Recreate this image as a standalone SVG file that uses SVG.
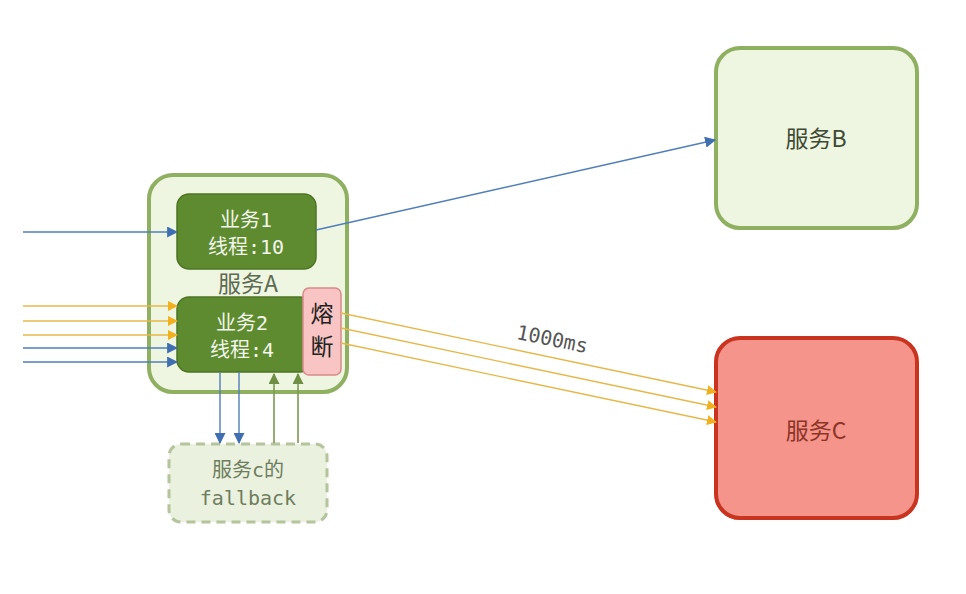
<svg xmlns="http://www.w3.org/2000/svg" width="966" height="594" viewBox="0 0 966 594">
<style>
.sans{font-family:"Noto Sans CJK SC","Noto Sans",sans-serif}
.mono{font-family:"DejaVu Sans Mono","Noto Sans CJK SC",monospace}
.blue{stroke:#4f7fb8;stroke-width:1.4;fill:none}
.yel{stroke:#e6b84a;stroke-width:1.4;fill:none}
.olive{stroke:#7a9a50;stroke-width:1.6;fill:none}
</style>
<defs>
<marker id="ab" viewBox="0 0 10 10" refX="9" refY="5" markerWidth="11" markerHeight="11" markerUnits="userSpaceOnUse" orient="auto"><path d="M0,0 L10,5 L0,10 z" fill="#3f6fb0"/></marker>
<marker id="ay" viewBox="0 0 10 10" refX="9" refY="5" markerWidth="10" markerHeight="10" markerUnits="userSpaceOnUse" orient="auto"><path d="M0,0 L10,5 L0,10 z" fill="#f0b020"/></marker>
<marker id="ao" viewBox="0 0 10 10" refX="9" refY="5" markerWidth="11" markerHeight="11" markerUnits="userSpaceOnUse" orient="auto"><path d="M0,0 L10,5 L0,10 z" fill="#6f8f45"/></marker>
</defs>
<rect width="966" height="594" fill="#ffffff"/>
<g id="serviceA">
<rect x="149" y="175" width="198" height="217" rx="24" fill="#eef5e0" stroke="#8fb060" stroke-width="4"/>
<text x="248" y="292" text-anchor="middle" class="sans" font-size="23" fill="#5d6a52">服务A</text>
</g>
<g id="biz1">
<rect x="177" y="194" width="139" height="75" rx="12" fill="#5f8b30" stroke="#4d7424" stroke-width="1.5"/>
<text x="246" y="227" text-anchor="middle" class="mono" font-size="20" fill="#f2f6ec">业务1</text>
<text x="246" y="254" text-anchor="middle" class="mono" font-size="20" fill="#f2f6ec">线程:10</text>
</g>
<g id="biz2">
<rect x="177" y="297" width="135" height="75" rx="12" fill="#5f8b30" stroke="#4d7424" stroke-width="1.5"/>
<text x="242" y="330" text-anchor="middle" class="mono" font-size="20" fill="#f2f6ec">业务2</text>
<text x="242" y="357" text-anchor="middle" class="mono" font-size="20" fill="#f2f6ec">线程:4</text>
</g>
<g id="fuse">
<rect x="303" y="288" width="38" height="87" rx="6" fill="#f8c4c4" stroke="#d88a8a" stroke-width="1.5"/>
<text x="322" y="322" text-anchor="middle" class="sans" font-size="23" fill="#222">熔</text>
<text x="322" y="355" text-anchor="middle" class="sans" font-size="23" fill="#222">断</text>
</g>
<g id="fallback">
<rect x="169" y="444" width="158" height="78" rx="12" fill="#eaf1df" stroke="#b4c49c" stroke-width="3" stroke-dasharray="9,6"/>
<text x="248" y="477" text-anchor="middle" class="mono" font-size="20" fill="#6e7d5e">服务c的</text>
<text x="248" y="505" text-anchor="middle" class="mono" font-size="20" fill="#6e7d5e">fallback</text>
</g>
<g id="serviceB">
<rect x="716" y="48" width="201" height="180" rx="24" fill="#eef5e0" stroke="#8fb060" stroke-width="4"/>
<text x="816" y="147" text-anchor="middle" class="sans" font-size="23" fill="#3e4a34">服务B</text>
</g>
<g id="serviceC">
<rect x="716" y="338" width="201" height="180" rx="24" fill="#f5948a" stroke="#c83420" stroke-width="4"/>
<text x="816" y="439" text-anchor="middle" class="sans" font-size="23" fill="#8c3426">服务C</text>
</g>
<g id="connectors">
<line x1="23" y1="232" x2="177" y2="232" class="blue" marker-end="url(#ab)"/>
<line x1="23" y1="306" x2="177" y2="306" class="yel" marker-end="url(#ay)"/>
<line x1="23" y1="321" x2="177" y2="321" class="yel" marker-end="url(#ay)"/>
<line x1="23" y1="335" x2="177" y2="335" class="yel" marker-end="url(#ay)"/>
<line x1="23" y1="348" x2="177" y2="348" class="blue" marker-end="url(#ab)"/>
<line x1="23" y1="362" x2="177" y2="362" class="blue" marker-end="url(#ab)"/>
<line x1="316" y1="230" x2="715" y2="140" class="blue" marker-end="url(#ab)"/>
<line x1="341" y1="313" x2="716" y2="392" class="yel" marker-end="url(#ay)"/>
<line x1="341" y1="328" x2="716" y2="407" class="yel" marker-end="url(#ay)"/>
<line x1="341" y1="343" x2="716" y2="422" class="yel" marker-end="url(#ay)"/>
<line x1="220" y1="372" x2="220" y2="443" class="blue" marker-end="url(#ab)"/>
<line x1="239" y1="372" x2="239" y2="443" class="blue" marker-end="url(#ab)"/>
<line x1="274" y1="443" x2="274" y2="374" class="olive" marker-end="url(#ao)"/>
<line x1="298" y1="443" x2="298" y2="374" class="olive" marker-end="url(#ao)"/>
<text x="552" y="346" text-anchor="middle" class="mono" font-size="20" fill="#555" transform="rotate(11.5 552 340)">1000ms</text>
</g>
</svg>
